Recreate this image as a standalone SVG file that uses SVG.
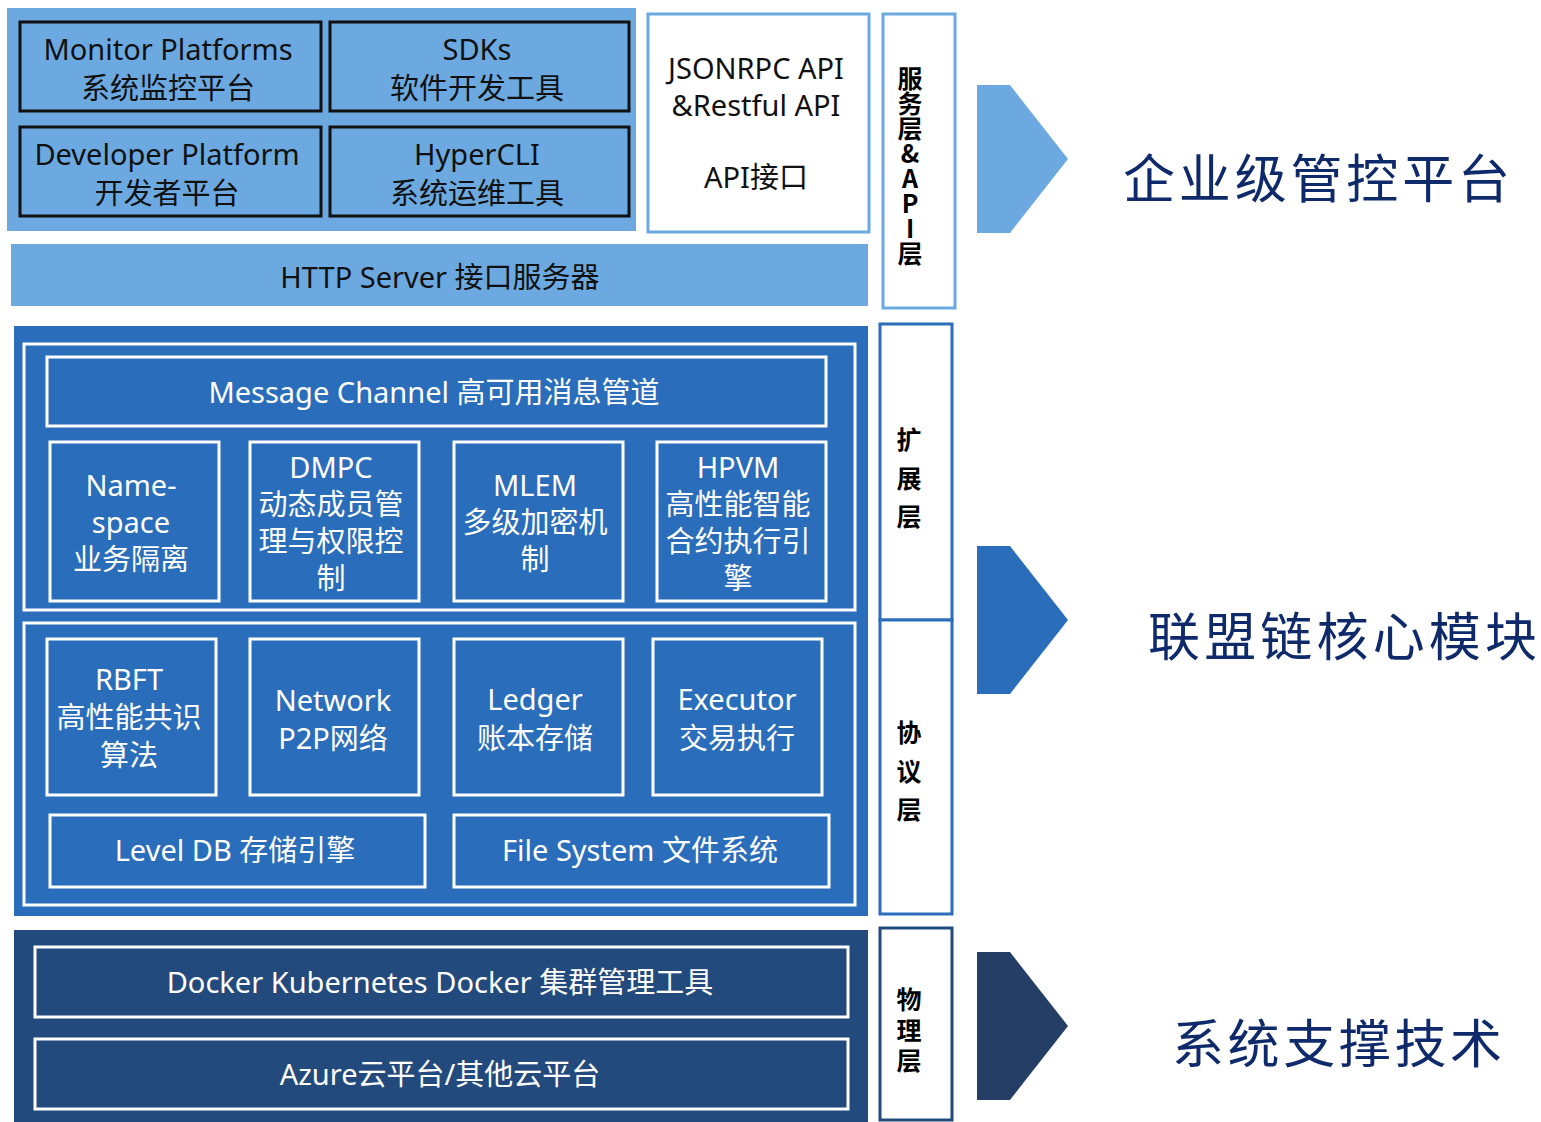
<svg xmlns="http://www.w3.org/2000/svg" width="1541" height="1122" viewBox="0 0 1541 1122">
<style>
text{font-family:"Noto Sans","Noto Sans CJK SC",sans-serif;text-anchor:middle;dominant-baseline:central}
.dk{fill:#111;font-size:29px}
.wt{fill:#fff;font-size:29px}
.vt{fill:#000;font-size:25px;font-weight:bold;font-family:"Noto Sans CJK SC",sans-serif;writing-mode:vertical-rl;text-orientation:upright;text-anchor:start}
.big{fill:#0f2a6b;font-size:52px;font-family:"Noto Sans CJK SC",sans-serif;text-anchor:start}
.bk{fill:none;stroke:#111;stroke-width:3}
.wb{fill:none;stroke:#fff;stroke-width:3}
.lb{fill:#fff;stroke:#6ca9e0;stroke-width:3}
.mb{fill:#fff;stroke:#2a6dba;stroke-width:3}
.nb{fill:#fff;stroke:#234a7c;stroke-width:3}
</style>
<rect width="1541" height="1122" fill="#fff"/>

<g id="service-layer">
  <rect x="7" y="8" width="629" height="223" fill="#6ca9e0"/>
  <g id="monitor"><rect class="bk" x="20" y="22" width="301" height="89"/>
    <text class="dk" x="168" y="48">Monitor Platforms</text><text class="dk" x="168" y="87">系统监控平台</text></g>
  <g id="sdks"><rect class="bk" x="330" y="22" width="299" height="89"/>
    <text class="dk" x="477" y="48">SDKs</text><text class="dk" x="477" y="87">软件开发工具</text></g>
  <g id="developer"><rect class="bk" x="20" y="127" width="301" height="89"/>
    <text class="dk" x="167" y="153">Developer Platform</text><text class="dk" x="167" y="192">开发者平台</text></g>
  <g id="hypercli"><rect class="bk" x="330" y="127" width="299" height="89"/>
    <text class="dk" x="477" y="153">HyperCLI</text><text class="dk" x="477" y="192">系统运维工具</text></g>
</g>
<g id="api"><rect class="lb" x="648" y="14" width="221" height="218"/>
  <text class="dk" x="756" y="67">JSONRPC API</text><text class="dk" x="756" y="104">&amp;Restful API</text><text class="dk" x="756" y="176">API接口</text></g>
<g id="http"><rect x="11" y="244" width="857" height="62" fill="#6ca9e0"/>
  <text class="dk" x="440" y="276">HTTP Server 接口服务器</text></g>
<g id="label-service"><rect class="lb" x="883" y="14" width="72" height="294"/>
  <text class="vt" x="910" y="66">服务层&amp;API层</text></g>
<path id="arrow-1" d="M977,85 H1010 L1068,159 L1010,233 H977 Z" fill="#6ca9e0"/>
<text id="t1" class="big" x="1123" y="175" textLength="387" lengthAdjust="spacing">企业级管控平台</text>

<g id="core">
  <rect x="14" y="326" width="854" height="590" fill="#2a6dba"/>
  <rect class="wb" x="24" y="344" width="831" height="266"/>
  <rect class="wb" x="24" y="623" width="831" height="282"/>
  <g id="msg"><rect class="wb" x="47" y="357" width="779" height="69"/><text class="wt" x="434" y="391">Message Channel 高可用消息管道</text></g>
  <g id="namespace"><rect class="wb" x="50" y="442" width="169" height="159"/>
    <text class="wt" x="131" y="484">Name-</text><text class="wt" x="131" y="521">space</text><text class="wt" x="131" y="558">业务隔离</text></g>
  <g id="dmpc"><rect class="wb" x="250" y="442" width="169" height="159"/>
    <text class="wt" x="331" y="466">DMPC</text><text class="wt" x="331" y="503">动态成员管</text><text class="wt" x="331" y="540">理与权限控</text><text class="wt" x="331" y="577">制</text></g>
  <g id="mlem"><rect class="wb" x="454" y="442" width="169" height="159"/>
    <text class="wt" x="535" y="484">MLEM</text><text class="wt" x="535" y="521">多级加密机</text><text class="wt" x="535" y="558">制</text></g>
  <g id="hpvm"><rect class="wb" x="657" y="442" width="169" height="159"/>
    <text class="wt" x="738" y="466">HPVM</text><text class="wt" x="738" y="503">高性能智能</text><text class="wt" x="738" y="540">合约执行引</text><text class="wt" x="738" y="577">擎</text></g>
  <g id="rbft"><rect class="wb" x="47" y="639" width="169" height="156"/>
    <text class="wt" x="129" y="678">RBFT</text><text class="wt" x="129" y="716">高性能共识</text><text class="wt" x="129" y="754">算法</text></g>
  <g id="network"><rect class="wb" x="250" y="639" width="169" height="156"/>
    <text class="wt" x="333" y="699">Network</text><text class="wt" x="333" y="737">P2P网络</text></g>
  <g id="ledger"><rect class="wb" x="454" y="639" width="169" height="156"/>
    <text class="wt" x="535" y="698">Ledger</text><text class="wt" x="535" y="737">账本存储</text></g>
  <g id="executor"><rect class="wb" x="653" y="639" width="169" height="156"/>
    <text class="wt" x="737" y="698">Executor</text><text class="wt" x="737" y="737">交易执行</text></g>
  <g id="leveldb"><rect class="wb" x="50" y="815" width="375" height="72"/><text class="wt" x="235" y="849">Level DB 存储引擎</text></g>
  <g id="filesystem"><rect class="wb" x="454" y="815" width="375" height="72"/><text class="wt" x="640" y="849">File System 文件系统</text></g>
</g>
<g id="label-ext"><rect class="mb" x="880" y="324" width="72" height="296"/>
  <text class="vt" x="909" y="427" letter-spacing="13.5">扩展层</text></g>
<g id="label-proto"><rect class="mb" x="880" y="620" width="72" height="294"/>
  <text class="vt" x="909" y="720" letter-spacing="13.5">协议层</text></g>
<path id="arrow-2" d="M977,546 H1010 L1068,620 L1010,694 H977 Z" fill="#2a6dba"/>
<text id="t2" class="big" x="1148" y="633" textLength="389" lengthAdjust="spacing">联盟链核心模块</text>

<g id="physical">
  <rect x="14" y="930" width="854" height="192" fill="#234a7c"/>
  <g id="docker"><rect class="wb" x="35" y="947" width="813" height="70"/><text class="wt" x="440" y="981">Docker Kubernetes Docker 集群管理工具</text></g>
  <g id="azure"><rect class="wb" x="35" y="1039" width="813" height="70"/><text class="wt" x="440" y="1073">Azure云平台/其他云平台</text></g>
</g>
<g id="label-phys"><rect class="nb" x="880" y="928" width="72" height="192"/>
  <text class="vt" x="909" y="987" letter-spacing="5.5">物理层</text></g>
<path id="arrow-3" d="M977,952 H1010 L1068,1026 L1010,1100 H977 Z" fill="#253e66"/>
<text id="t3" class="big" x="1172" y="1040" textLength="330" lengthAdjust="spacing">系统支撑技术</text>
<g id="connectors"/>
</svg>
